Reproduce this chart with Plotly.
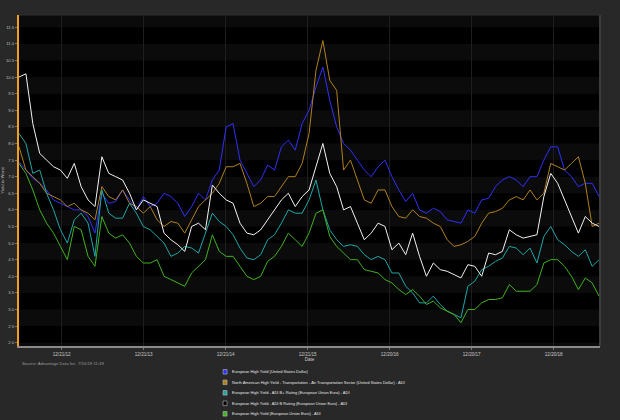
import pandas as pd
import plotly.graph_objects as go

# ---------------- data (monthly readings, Jun 2012 - Jul 2019) ----------------
start_date = "2012-06-14"
end_date = "2019-07-10"

eur_hy_usd = [7.45, 7.2, 6.95, 6.8, 6.6, 6.3, 6.2, 6.1, 6.0, 6.0, 5.8, 5.3, 6.5, 6.2, 6.25,
              6.6, 6.3, 6.0, 6.4, 6.1, 6.2, 6.5, 6.4, 6.2, 5.8, 6.1, 6.5, 6.3, 6.9,
              7.2, 8.5, 8.6, 7.5, 7.1, 6.7, 6.9, 7.35, 7.2, 7.9, 8.1, 7.8, 8.6, 9.0,
              9.7, 10.3, 9.3, 8.5, 8.0, 7.8, 7.5, 7.2, 7.0, 7.3, 7.5, 7.0, 6.6, 6.25,
              6.5, 6.0, 5.9, 6.05, 5.95, 5.7, 5.65, 5.6, 6.0, 5.9, 6.3, 6.35, 6.7, 6.9,
              7.0, 6.9, 6.7, 7.0, 7.0, 7.5, 7.9, 7.9, 7.2, 7.0, 6.7, 6.8, 6.8, 6.4]

na_hy_air = [7.9, 7.2, 7.0, 6.8, 6.5, 6.4, 6.3, 6.1, 6.2, 6.0, 5.9, 5.7, 6.7, 6.4, 6.3,
             6.6, 6.2, 6.1, 5.9, 6.1, 5.7, 5.5, 5.65, 5.6, 5.3, 5.7, 6.1, 6.3, 6.5,
             6.8, 7.3, 7.3, 7.4, 6.8, 6.1, 6.2, 6.4, 6.4, 6.7, 7.0, 7.0, 7.4, 8.3,
             10.2, 11.1, 9.9, 9.6, 7.2, 7.5, 6.9, 6.3, 6.2, 6.6, 6.6, 6.1, 5.8, 5.75,
             6.0, 5.8, 5.75, 5.6, 5.5, 5.1, 4.9, 4.95, 5.05, 5.2, 5.6, 5.9, 5.95, 6.05,
             6.3, 6.4, 6.3, 6.6, 6.3, 6.5, 7.4, 7.3, 7.2, 7.4, 7.6, 6.8, 5.5, 5.6]

eur_hy_bplus = [8.3, 8.0, 7.1, 7.2, 6.5, 6.0, 5.4, 5.0, 5.7, 5.9, 5.6, 4.6, 6.6, 5.9, 5.75,
                5.75, 6.2, 5.9, 5.5, 5.4, 5.2, 5.0, 4.6, 4.7, 4.9, 4.85, 4.7, 5.3, 5.9,
                5.65, 5.5, 5.25, 4.85, 4.55, 4.5, 4.65, 5.1, 5.25, 5.6, 6.0, 5.9, 5.9, 6.3,
                6.9, 6.0, 5.4, 5.1, 4.9, 4.95, 4.9, 4.65, 4.5, 4.6, 4.5, 4.1, 4.1, 3.7,
                3.5, 3.2, 3.2, 3.4, 3.15, 2.95, 2.85, 2.75, 3.7, 3.85, 4.2, 4.3, 4.45, 4.55,
                4.9, 4.85, 4.65, 4.85, 4.4, 5.2, 5.5, 5.1, 4.95, 4.75, 4.6, 4.8, 4.3, 4.5]

eur_hy_b = [10.0, 10.1, 8.6, 7.7, 7.5, 7.3, 7.2, 6.95, 7.4, 6.7, 6.3, 6.1, 7.6, 7.1, 7.0,
            6.9, 6.5, 6.0, 6.3, 6.2, 6.1, 5.3, 5.1, 4.95, 4.75, 5.5, 5.6, 5.4, 6.75,
            6.5, 6.3, 6.2, 5.6, 5.3, 5.25, 5.4, 5.7, 6.0, 6.3, 6.5, 6.1, 6.4, 6.6,
            7.3, 8.0, 7.1, 6.7, 6.0, 6.1, 5.6, 5.1, 5.3, 5.6, 5.5, 4.8, 5.0, 4.65,
            5.3, 4.6, 4.0, 4.4, 4.2, 4.15, 4.05, 3.95, 4.35, 4.3, 4.0, 4.7, 4.65, 4.75,
            5.4, 5.25, 5.15, 5.2, 5.25, 6.4, 7.1, 6.8, 6.3, 5.8, 5.3, 5.8, 5.6, 5.5]

eur_hy_eur = [7.4, 7.1, 6.6, 6.0, 5.6, 5.3, 4.9, 4.5, 5.5, 5.4, 4.6, 4.3, 5.8, 5.3, 5.15,
              5.25, 5.0, 4.6, 4.4, 4.4, 4.5, 4.0, 3.9, 3.8, 3.7, 4.1, 4.3, 4.5, 5.25,
              4.75, 4.6, 4.6, 4.3, 4.0, 3.9, 4.0, 4.45, 4.6, 4.9, 5.3, 5.1, 4.9, 5.3,
              5.9, 6.0, 5.2, 4.9, 4.7, 4.5, 4.5, 4.2, 4.15, 4.1, 3.9, 3.8, 3.6, 3.45,
              3.6, 3.4, 3.15, 3.25, 3.05, 2.95, 2.85, 2.6, 3.0, 3.0, 3.2, 3.3, 3.3, 3.35,
              3.75, 3.55, 3.55, 3.55, 3.75, 4.4, 4.5, 4.5, 4.3, 4.0, 3.6, 3.95, 3.8, 3.4]

series_names = [
    "European High Yield (United States Dollar)",
    "North American High Yield - Transportation - Air Transportation Sector (United States Dollar) - ADI",
    "European High Yield - ADI B+ Rating (European Union Euro) - ADI",
    "European High Yield - ADI B Rating (European Union Euro) - ADI",
    "European High Yield (European Union Euro) - ADI",
]
series_values = [eur_hy_usd, na_hy_air, eur_hy_bplus, eur_hy_b, eur_hy_eur]

tick_dates = ["2012-12-21", "2013-12-21", "2014-12-21", "2015-12-21",
              "2016-12-20", "2017-12-20", "2018-12-20"]
tick_labels = ["12/21/12", "12/21/13", "12/21/14", "12/21/15",
               "12/20/16", "12/20/17", "12/20/18"]
y_ticks = [2.0 + 0.5 * i for i in range(20)]

source_text = "Source: Advantage Data Inc. 7/10/19 11:49"

# ---------------- styling ----------------
line_colors = ["#3030f8", "#b0801e", "#1fa6a6", "#f2f2f2", "#3fb21e"]
legend_fills = ["#3030f8", "#b0801e", "#1fa6a6", "#000000", "#3fb21e"]
y_range = [1.9, 11.87]
x_range = [start_date, "2019-07-14"]

dates = pd.date_range(start_date, end_date, periods=len(eur_hy_usd))

fig = go.Figure()
for name, vals, col in zip(series_names, series_values, line_colors):
    fig.add_trace(go.Scatter(x=dates, y=vals, mode="lines", name=name,
                             line=dict(color=col, width=1), showlegend=False))

shapes = []
# alternating horizontal bands
k = 2
while k * 0.5 < y_range[1]:
    y0 = max(k * 0.5, y_range[0])
    y1 = min(k * 0.5 + 0.5, y_range[1])
    if k % 2 == 1:
        shapes.append(dict(type="rect", xref="paper", yref="y", x0=0, x1=1, y0=y0, y1=y1,
                           fillcolor="#0b0b0b", line=dict(width=0), layer="below"))
    k += 1
# border right / top
shapes.append(dict(type="line", xref="paper", yref="paper", x0=1, x1=1, y0=0, y1=1,
                   line=dict(color="#3c3c3c", width=2)))
shapes.append(dict(type="line", xref="paper", yref="paper", x0=0, x1=1, y0=1, y1=1,
                   line=dict(color="#2f2f2f", width=1)))

# manual legend
W, H = 620, 420
ml, mr, mt, mb = 18.6, 20, 15, 74
pw, ph = W - ml - mr, H - mt - mb
def px_x(x):
    return (x - ml) / pw
def px_y(y):
    return (H - mb - y) / ph

annotations = []
for i, (name, col, fill) in enumerate(zip(series_names, line_colors, legend_fills)):
    yc = 371.8 + 10.5 * i
    shapes.append(dict(type="rect", xref="paper", yref="paper",
                       x0=px_x(222.8), x1=px_x(226.8), y0=px_y(yc + 2.3), y1=px_y(yc - 2.3),
                       fillcolor=fill, line=dict(color="#bbbbbb", width=0.6)))
    annotations.append(dict(text=name, xref="paper", yref="paper", x=px_x(229.3), y=px_y(yc),
                            xanchor="left", yanchor="middle", showarrow=False,
                            font=dict(size=4, color="#e6e6e6", family="Liberation Sans, Arial")))
annotations.append(dict(text=source_text, xref="paper", yref="paper", x=px_x(19.5), y=px_y(363.3),
                        xanchor="left", yanchor="middle", showarrow=False,
                        font=dict(size=4.3, color="#9a9a9a", family="Liberation Sans, Arial")))

fig.update_layout(
    width=W, height=H,
    margin=dict(l=ml, r=mr, t=mt, b=mb, pad=0, autoexpand=False),
    paper_bgcolor="#282828",
    plot_bgcolor="#000000",
    font=dict(family="Liberation Sans, Arial", color="#bdbdbd", size=4.5),
    shapes=shapes,
    annotations=annotations,
    xaxis=dict(
        type="date", range=x_range, automargin=False,
        tickmode="array", tickvals=tick_dates, ticktext=tick_labels,
        tickfont=dict(size=4.6, color="#c8c8c8"),
        ticks="outside", ticklen=2, tickcolor="#777777",
        showgrid=True, gridcolor="#1e1e1e", gridwidth=1,
        showline=True, linecolor="#8a8a8a", linewidth=2,
        zeroline=False,
        title=dict(text="Date", font=dict(size=4.6, color="#c8c8c8"), standoff=1),
    ),
    yaxis=dict(
        range=y_range, automargin=False,
        tickmode="array", tickvals=y_ticks, ticktext=[f"{v:.1f}" for v in y_ticks],
        tickfont=dict(size=4.2, color="#bdbdbd"),
        ticks="outside", ticklen=2, tickcolor="#777777",
        showgrid=False, zeroline=False,
        showline=True, linecolor="#f0a020", linewidth=2,
        title=dict(text="Yield to Worst", font=dict(size=4.3, color="#bdbdbd"), standoff=1),
    ),
)

fig.write_html("out.html", config={"displayModeBar": False},
               post_script="document.body.style.margin='0';document.body.style.overflow='hidden';")
